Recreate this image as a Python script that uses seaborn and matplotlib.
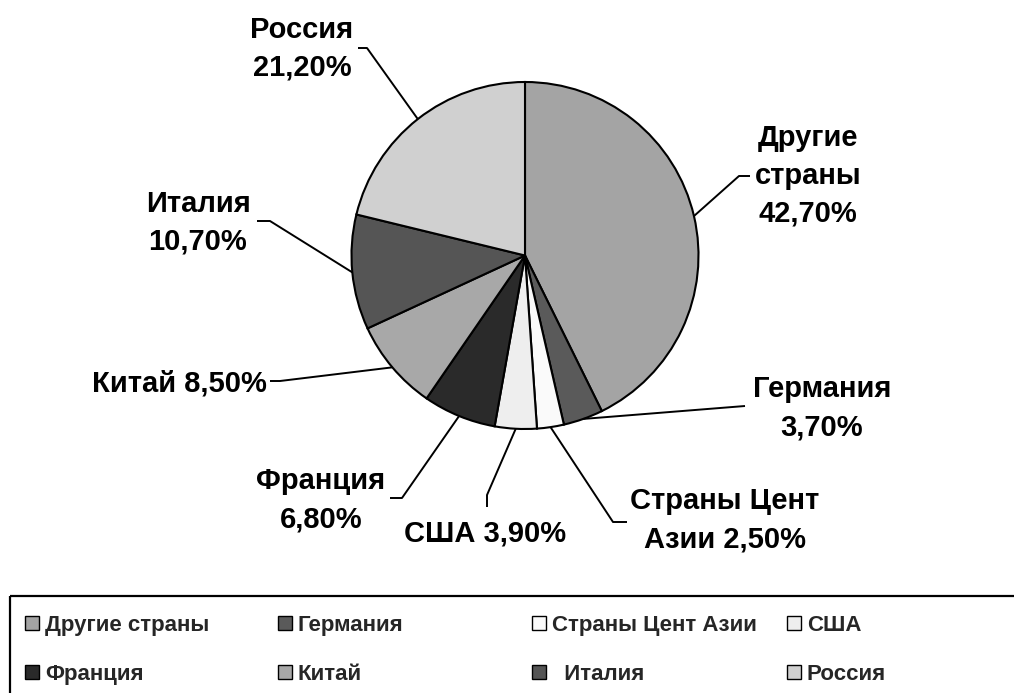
import numpy as np
import matplotlib
matplotlib.use("Agg")
import matplotlib.pyplot as plt
import seaborn as sns
from matplotlib.patches import Patch, Rectangle

# Данные
countries = ["Другие страны", "Германия", "Страны Цент Азии", "США",
             "Франция", "Китай", "Италия", "Россия"]
shares = [42.7, 3.7, 2.5, 3.9, 6.8, 8.5, 10.7, 21.2]
grays = ["#a4a4a4", "#5a5a5a", "#fafafa", "#eeeeee",
         "#2a2a2a", "#a8a8a8", "#555555", "#d0d0d0"]
# шаблоны подписей (переносы строк как на картинке)
label_tpl = ["Другие\nстраны\n{}", "Германия\n{}", "Страны Цент\nАзии {}", "США {}",
             "Франция\n{}", "Китай {}", "Италия\n{}", "Россия\n{}"]
legend_names = ["Другие страны", "Германия", "Страны Цент Азии", "США",
                "Франция", "Китай", "  Италия", "Россия"]

# позиции подписей (px, базовая линия последней строки) и изломы выносок
label_pos = [(808, 222), (822, 435), (725, 547), (485, 542),
             (321, 527), (179, 392), (198, 250), (302, 76)]
elbow = [(739, 176), (745, 406), (613, 522), (487, 495),
         (402, 498), (280, 381), (270, 221), (367, 48)]
tick_end = [(750, 176), None, (627, 522), (487, 507),
            (390, 498), (270, 381), (257, 221), (358, 48)]

W, H = 1014, 693
CX, CY, R = 525, 255.5, 173.5

sns.set_theme(style="white")
plt.rcParams["font.family"] = ["Liberation Sans", "DejaVu Sans"]

fig = plt.figure(figsize=(W / 100, H / 100), dpi=100)
ax = fig.add_axes([0, 0, 1, 1])

wedges, _ = ax.pie(shares, colors=grays, startangle=-90, counterclock=True,
                   center=(CX, CY), radius=R,
                   wedgeprops=dict(edgecolor="black", linewidth=1.5))
ax.set_xlim(0, W)
ax.set_ylim(H, 0)
ax.set_aspect("equal")
ax.axis("off")

for i, w in enumerate(wedges):
    mid = np.deg2rad((w.theta1 + w.theta2) / 2)
    px, py = CX + R * np.cos(mid), CY + R * np.sin(mid)
    ex, ey = elbow[i]
    xs, ys = [px, ex], [py, ey]
    if tick_end[i] is not None:
        xs.append(tick_end[i][0])
        ys.append(tick_end[i][1])
    ax.plot(xs, ys, color="black", lw=1.4, solid_capstyle="butt")
    txt = label_tpl[i].format(f"{shares[i]:.2f}%".replace(".", ","))
    ax.text(label_pos[i][0], label_pos[i][1], txt, ha="center", va="baseline",
            multialignment="center", fontsize=21, fontweight="bold",
            linespacing=1.45, color="black")

# рамка легенды
ax.add_patch(Rectangle((10, 596), 1020, 120, fill=False, edgecolor="black",
                       linewidth=1.6))

# легенда: 4 колонки по 2 строки
col_x = [25, 278, 532, 787]
for c in range(4):
    idx = [c, c + 4]
    handles = [Patch(facecolor=grays[k], edgecolor="black", linewidth=1.0) for k in idx]
    fig.legend(handles, [legend_names[k] for k in idx], loc="upper left",
               bbox_to_anchor=(col_x[c] / W, 1 - 615 / H), frameon=False,
               borderpad=0, borderaxespad=0, handlelength=0.62, handleheight=0.62,
               handletextpad=0.27, labelspacing=1.26,
               prop=dict(family="Liberation Sans", weight="bold", size=16))

fig.savefig("out.png", dpi=100, facecolor="white")
